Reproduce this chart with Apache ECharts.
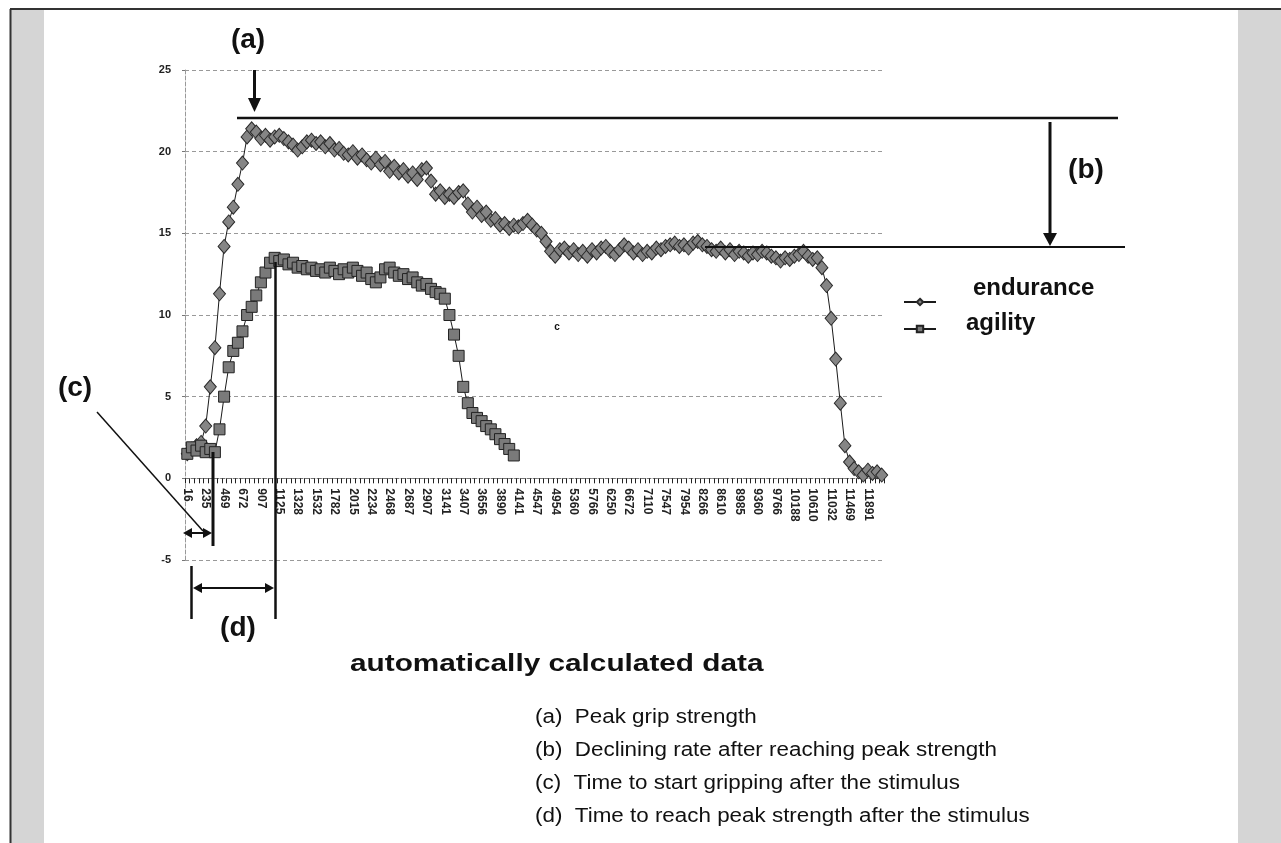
<!DOCTYPE html>
<html>
<head>
<meta charset="utf-8">
<title>Grip strength</title>
<script src="https://cdn.jsdelivr.net/npm/echarts@6/dist/echarts.min.js"></script>
<style>
  html, body { margin: 0; padding: 0; background: #fff; }
  #chart { width: 1281px; height: 843px; }
</style>
</head>
<body>
<div id="chart"></div>
<script>
// time stamps printed under the axis (ms), one every STEP samples
const tickLabels = ['16', '235', '469', '672', '907', '1125', '1328', '1532', '1782', '2015',
  '2234', '2468', '2687', '2907', '3141', '3407', '3656', '3890', '4141', '4547',
  '4954', '5360', '5766', '6250', '6672', '7110', '7547', '7954', '8266', '8610',
  '8985', '9360', '9766', '10188', '10610', '11032', '11469', '11891'];
const STEP = 4;

// grip force, one value per sample slot
const endurance = [
  1.5, 1.8, 2.0, 2.2, 3.2, 5.6, 8.0, 11.3, 14.2, 15.7,
  16.6, 18.0, 19.3, 20.9, 21.4, 21.2, 20.8, 21.0, 20.7, 20.9,
  21.0, 20.8, 20.6, 20.4, 20.1, 20.3, 20.6, 20.7, 20.5, 20.6,
  20.3, 20.5, 20.1, 20.2, 19.9, 19.8, 20.0, 19.6, 19.8, 19.5,
  19.3, 19.6, 19.2, 19.4, 18.8, 19.1, 18.7, 18.9, 18.5, 18.7,
  18.3, 18.9, 19.0, 18.2, 17.4, 17.6, 17.2, 17.4, 17.2, 17.5,
  17.6, 16.8, 16.3, 16.6, 16.1, 16.3, 15.8, 15.9, 15.5, 15.6,
  15.3, 15.5, 15.4, 15.6, 15.8, 15.5, 15.2, 15.0, 14.5, 13.9,
  13.6, 14.0, 14.1, 13.8, 14.0, 13.7, 13.9, 13.6, 14.0, 13.8,
  14.1, 14.2, 13.9, 13.7, 14.0, 14.3, 14.1, 13.8, 14.0, 13.7,
  13.9, 13.8, 14.1, 14.0, 14.2, 14.3, 14.4, 14.2, 14.3, 14.1,
  14.4, 14.5, 14.3, 14.2, 14.0, 13.9, 14.1, 13.8, 14.0, 13.7,
  13.9, 13.8, 13.6, 13.8, 13.7, 13.9, 13.8, 13.6, 13.5, 13.3,
  13.5, 13.4, 13.6, 13.7, 13.9, 13.6, 13.4, 13.5, 12.9, 11.8,
  9.8, 7.3, 4.6, 2.0, 1.0, 0.6, 0.4, 0.2, 0.5, 0.3,
  0.4, 0.2
];
const agility = [
  1.5, 1.9, 1.7, 2.0, 1.6, 1.8, 1.6, 3.0, 5.0, 6.8,
  7.8, 8.3, 9.0, 10.0, 10.5, 11.2, 12.0, 12.6, 13.2, 13.5,
  13.3, 13.4, 13.1, 13.2, 12.9, 13.0, 12.8, 12.9, 12.7, 12.8,
  12.6, 12.9, 12.7, 12.5, 12.8, 12.6, 12.9, 12.7, 12.4, 12.6,
  12.2, 12.0, 12.3, 12.8, 12.9, 12.6, 12.4, 12.5, 12.2, 12.3,
  12.0, 11.8, 11.9, 11.6, 11.4, 11.3, 11.0, 10.0, 8.8, 7.5,
  5.6, 4.6, 4.0, 3.7, 3.5, 3.2, 3.0, 2.7, 2.4, 2.1,
  1.8, 1.4
];

const notes = [
  '(a)  Peak grip strength',
  '(b)  Declining rate after reaching peak strength',
  '(c)  Time to start gripping after the stimulus',
  '(d)  Time to reach peak strength after the stimulus'
];

// one category per sample, only every STEP-th one carries a label
const categories = [];
tickLabels.forEach(t => {
  categories.push(t);
  for (let k = 1; k < STEP; k++) categories.push('');
});

const FONT = '"Liberation Sans", Arial, sans-serif';
const INK = '#111';
const Y_MIN = -5, Y_MAX = 25;
const GRID = { left: 185, right: 397, top: 70, bottom: 283 };
// the category axis sits on y = 0, like the spreadsheet original
const zeroOffset = -(843 - GRID.top - GRID.bottom) * (0 - Y_MIN) / (Y_MAX - Y_MIN);

function seg(x1, y1, x2, y2, w) {
  return { type: 'line', z: 100, silent: true, shape: { x1, y1, x2, y2 },
    style: { stroke: INK, lineWidth: w || 2 } };
}
function head(points) {
  return { type: 'polygon', z: 100, silent: true, shape: { points }, style: { fill: INK } };
}
function label(text, x, y, size, opts) {
  opts = opts || {};
  return { type: 'text', z: 100, silent: true, x, y, scaleX: opts.scaleX || 1,
    style: { text, fill: INK, font: (opts.weight || 'bold') + ' ' + size + 'px ' + FONT,
      textAlign: opts.align || 'center', textVerticalAlign: 'middle' } };
}

const graphics = [
  // scanned page frame
  { type: 'rect', silent: true, shape: { x: 11, y: 10, width: 33, height: 833 }, style: { fill: '#d5d5d5' } },
  { type: 'rect', silent: true, shape: { x: 1238, y: 10, width: 43, height: 833 }, style: { fill: '#d5d5d5' } },
  { type: 'line', silent: true, shape: { x1: 10, y1: 9, x2: 1281, y2: 9 }, style: { stroke: '#333', lineWidth: 2 } },
  { type: 'line', silent: true, shape: { x1: 10.5, y1: 9, x2: 10.5, y2: 843 }, style: { stroke: '#333', lineWidth: 2 } },

  // (a) peak
  label('(a)', 248, 40, 28),
  seg(254.5, 70, 254.5, 100, 3),
  head([[248, 98], [261, 98], [254.5, 112]]),
  seg(237, 118, 1118, 118, 2.5),

  // (b) decline
  label('(b)', 1086, 170, 28),
  seg(1050, 122, 1050, 236, 3),
  head([[1043, 233], [1057, 233], [1050, 246]]),
  seg(705, 247, 1125, 247, 2),

  // (c) start of gripping
  label('(c)', 75, 388, 28),
  seg(97, 412, 203, 531, 1.5),
  seg(213, 452, 213, 546, 3),
  seg(186, 533, 209, 533, 2),
  head([[183, 533], [192, 528], [192, 538]]),
  head([[212, 533], [203, 528], [203, 538]]),

  // (d) time to peak
  seg(275.5, 262, 275.5, 619, 2.5),
  seg(191.5, 566, 191.5, 619, 2.5),
  seg(196, 588, 271, 588, 2),
  head([[193, 588], [202, 583], [202, 593]]),
  head([[274, 588], [265, 583], [265, 593]]),
  label('(d)', 238, 628, 28),

  // stray mark on the scan
  label('c', 557, 327, 10),

  // caption
  label('automatically calculated data', 350, 664, 24, { align: 'left', scaleX: 1.24 })
];
notes.forEach((t, i) => {
  graphics.push(label(t, 535, 717 + i * 33, 20, { align: 'left', weight: 'normal', scaleX: 1.12 }));
});

const legendText = (lineHeight, pad) => ({
  fontSize: 24, fontWeight: 'bold', color: INK, padding: [0, 0, 0, pad],
  rich: { n: { fontSize: 24, fontWeight: 'bold', color: INK, lineHeight, verticalAlign: 'top' } }
});

const chart = echarts.init(document.getElementById('chart'));
chart.setOption({
  animation: false,
  backgroundColor: '#fff',
  textStyle: { fontFamily: FONT },
  grid: GRID,
  legend: [
    {
      data: ['endurance'], left: 903, top: 276, padding: 0, itemWidth: 32, itemHeight: 8,
      formatter: '{n|{name}}', textStyle: legendText(52, 32)
    },
    {
      data: ['agility'], left: 903, top: 311, padding: 0, itemWidth: 32, itemHeight: 8,
      formatter: '{n|{name}}', textStyle: legendText(36, 25)
    }
  ],
  xAxis: {
    type: 'category',
    data: categories,
    boundaryGap: true,
    offset: zeroOffset,
    axisLine: { onZero: false, lineStyle: { color: '#777', type: 'dashed', width: 1 } },
    axisTick: { show: true, interval: 0, length: 5, lineStyle: { color: '#222', width: 1 } },
    axisLabel: {
      interval: STEP - 1, rotate: -90, margin: 10,
      fontSize: 12, fontWeight: 'bold', color: '#222'
    },
    splitLine: { show: false }
  },
  yAxis: {
    type: 'value',
    min: Y_MIN, max: Y_MAX, interval: 5,
    axisLine: { show: true, lineStyle: { color: '#999', type: 'dashed' } },
    axisTick: { show: true, length: 3, lineStyle: { color: '#777' } },
    axisLabel: { fontSize: 11, fontWeight: 'bold', color: '#222', margin: 14 },
    splitLine: { lineStyle: { color: '#999', type: [4, 3], width: 1 } }
  },
  series: [
    {
      name: 'endurance', type: 'line', data: endurance,
      symbol: 'diamond', symbolSize: [12, 14], showAllSymbol: true,
      lineStyle: { color: '#1a1a1a', width: 1 },
      itemStyle: { color: '#858585', borderColor: '#2a2a2a', borderWidth: 1 },
      emphasis: { disabled: true }
    },
    {
      name: 'agility', type: 'line', data: agility,
      symbol: 'rect', symbolSize: 11, showAllSymbol: true,
      lineStyle: { color: '#1a1a1a', width: 1 },
      itemStyle: { color: '#7a7a7a', borderColor: '#222', borderWidth: 1 },
      emphasis: { disabled: true }
    }
  ],
  graphic: graphics
});
</script>
</body>
</html>
